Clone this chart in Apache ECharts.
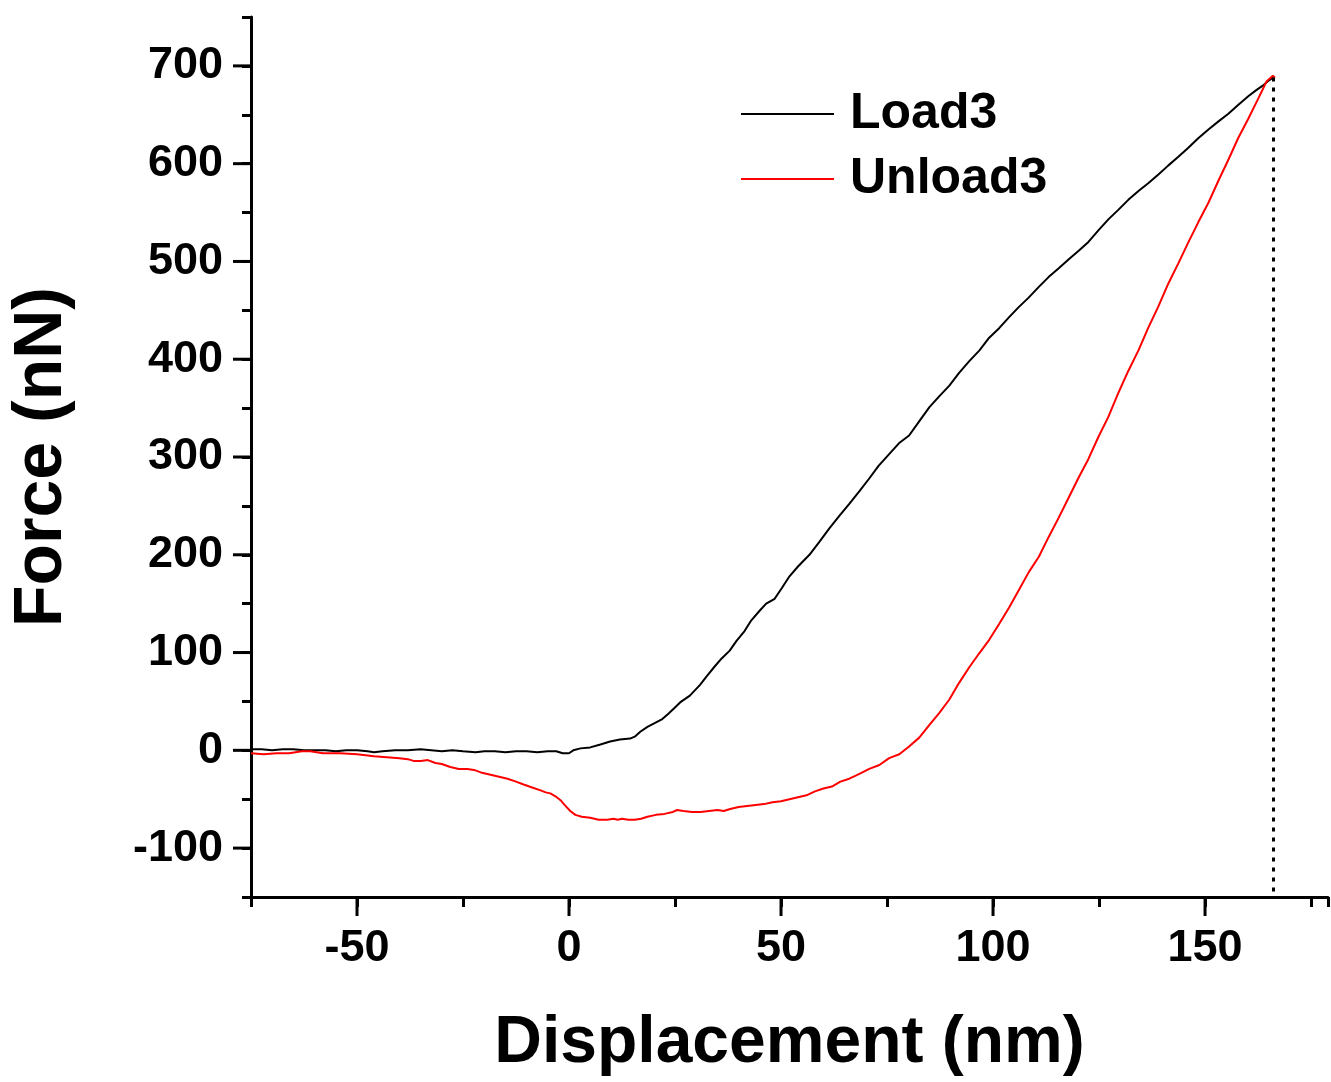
<!DOCTYPE html>
<html>
<head>
<meta charset="utf-8">
<script src="https://cdn.jsdelivr.net/npm/echarts@6/dist/echarts.min.js"></script>
<style>
  html, body { margin: 0; padding: 0; background: #fff; }
  #chart { width: 1331px; height: 1082px; }
</style>
</head>
<body>
<div id="chart"></div>
<script>
// load curve
const loadDisp = [-75, -72.5, -70, -67.5, -65, -62.5, -60, -57.5, -55, -52.5, -50, -47.5, -46, -44, -41, -38, -35, -32.5, -30, -27.5,
  -25, -22, -20, -17.5, -15, -12.5, -10, -7.5, -5, -3, -1.5, 0, 1, 2.7, 5, 7.4, 9.7, 12, 14.4, 15.5,
  16.8, 18.5, 20.3, 22, 23.3, 24.8, 26.2, 28.5, 30.9, 32.5, 34.4, 36, 37.9, 39.5, 41.4, 43, 45, 46.5, 48.5, 50.2,
  52, 54, 56.7, 59, 61.4, 63.8, 66.1, 68.5, 70.8, 73, 75.5, 77.8, 80.2, 82.5, 85, 87.3, 89.7, 92, 94.4, 96.8,
  99.1, 101.5, 103.8, 106, 108.4, 110.8, 113.1, 115.5, 117.8, 120.2, 122.5, 124.9, 127.2, 129.6, 131.9, 134.3, 136.6, 139, 141.3, 143.7,
  146, 148.4, 150.8, 153.1, 155.5, 157.8, 160.2, 162, 163.7, 165, 166];
const loadForce = [1, 1, 0, 1, 1, 0, 0, 0, -1, 0, 0, -1, -2, -1, 0, 0, 1, 0, -1, 0,
  -1, -2, -1, -1, -2, -1, -1, -2, -1, -1, -3, -3, 0, 2, 3, 6, 9, 11, 12, 14,
  19, 24, 28, 32, 37, 43, 49, 56, 67, 76, 86, 94, 102, 112, 122, 133, 143, 150, 155, 166,
  178, 188, 200, 213, 227, 240, 252, 265, 278, 291, 303, 314, 322, 336, 351, 362, 373, 386, 398, 409,
  422, 432, 443, 453, 463, 474, 484, 493, 502, 511, 520, 532, 543, 553, 563, 572, 580, 589, 598, 607,
  616, 626, 635, 643, 651, 660, 669, 675, 680, 685, 688];

// unload curve
const unloadDisp = [-75, -72, -69, -66, -63, -61, -58, -54, -50, -46, -43, -40, -38, -36.5, -35, -33.3, -31.5, -30, -28, -26,
  -24, -22.4, -20.5, -18.5, -16.5, -14.5, -12.5, -10.7, -8.7, -6.7, -5.5, -4.4, -3.2, -2, -1, 0.3, 1.5, 3, 5, 7,
  9, 10.5, 11.5, 12.5, 14, 15.5, 17, 18.5, 20.5, 22.5, 24.5, 25.5, 27, 29, 31, 33, 35, 36.5, 38, 40,
  42, 44, 46, 48, 50, 52, 54, 56, 58, 60, 62, 64, 66.1, 68.5, 70.8, 73.2, 75.5, 77.9, 80.2, 82.6,
  85, 87.3, 89.7, 92, 94.4, 96.7, 99.1, 101.4, 103.8, 106.1, 108.4, 110.8, 113.1, 115.5, 117.8, 120.2, 122.5, 124.9, 127.2, 129.6,
  131.9, 134.3, 136.6, 139, 141.3, 143.7, 146, 148.4, 150.8, 153.1, 155.5, 157.8, 160.2, 162.6, 164.5, 166, 166.5];
const unloadForce = [-3, -4, -3, -3, -1, -1, -3, -3, -4, -6, -7, -8, -9, -11, -11, -10, -13, -14, -17, -19,
  -19, -20, -23, -25, -27, -29, -32, -35, -38, -41, -43, -44, -47, -51, -56, -62, -66, -68, -69, -71,
  -71, -70, -71, -70, -71, -71, -70, -68, -66, -65, -63, -61, -62, -63, -63, -62, -61, -62, -60, -58,
  -57, -56, -55, -53, -52, -50, -48, -46, -42, -39, -37, -32, -29, -24, -19, -15, -8, -4, 4, 13,
  26, 38, 52, 69, 85, 99, 113, 129, 146, 164, 182, 198, 218, 238, 258, 279, 298, 321, 341, 366,
  388, 409, 432, 454, 477, 498, 519, 540, 560, 582, 604, 626, 646, 667, 684, 690, 688];

// end of loading (dotted marker)
const peakDisp = 166;
const peakForce = 688;

// tick values
const xMajorTicks = [-50, 0, 50, 100, 150];
const yMajorTicks = [-100, 0, 100, 200, 300, 400, 500, 600, 700];

const xMin = -75, xMax = 179, yMin = -150, yMax = 750;
const font = "'Liberation Sans', Arial, Helvetica, sans-serif";

const zip = (xs, ys) => xs.map((x, i) => [x, ys[i]]);

const chart = echarts.init(document.getElementById('chart'));

const tickLine = (p1, p2) => ({
  type: 'line',
  shape: { x1: p1[0], y1: p1[1], x2: p2[0], y2: p2[1] },
  style: { stroke: '#000', lineWidth: 3 }
});

const option = {
  backgroundColor: '#fff',
  animation: false,
  grid: { left: 250, right: 0, top: 17, bottom: 183 },
  legend: {
    data: ['Load3', 'Unload3'],
    orient: 'vertical',
    left: 741,
    top: 89,
    padding: 0,
    icon: 'rect',
    itemWidth: 93,
    itemHeight: 2,
    itemGap: 15,
    textStyle: {
      fontFamily: font,
      fontWeight: 'bold',
      fontSize: 50,
      color: '#000',
      padding: [0, 0, 0, 11]
    }
  },
  xAxis: {
    type: 'value',
    min: xMin,
    max: xMax,
    interval: 25,
    name: 'Displacement (nm)',
    nameLocation: 'middle',
    nameGap: 114,
    nameTextStyle: { fontFamily: font, fontWeight: 'bold', fontSize: 66, color: '#000' },
    axisLine: { onZero: false, lineStyle: { color: '#000', width: 3 } },
    axisTick: { inside: false, length: 10, lineStyle: { color: '#000', width: 3 } },
    axisLabel: {
      margin: 29,
      fontFamily: font,
      fontWeight: 'bold',
      fontSize: 45,
      color: '#000',
      formatter: v => (v % 50 === 0 ? String(v) : '')
    },
    splitLine: { show: false }
  },
  yAxis: {
    type: 'value',
    min: yMin,
    max: yMax,
    interval: 50,
    name: 'Force (nN)',
    nameLocation: 'middle',
    nameGap: 175,
    nameTextStyle: { fontFamily: font, fontWeight: 'bold', fontSize: 68, color: '#000' },
    axisLine: { onZero: false, lineStyle: { color: '#000', width: 3 } },
    axisTick: { inside: false, length: 9, lineStyle: { color: '#000', width: 3 } },
    axisLabel: {
      margin: 28,
      fontFamily: font,
      fontWeight: 'bold',
      fontSize: 45,
      color: '#000',
      formatter: v => (v % 100 === 0 ? String(v) : '')
    },
    splitLine: { show: false }
  },
  series: [
    {
      name: 'Load3',
      type: 'line',
      data: zip(loadDisp, loadForce),
      symbol: 'none',
      color: '#000',
      lineStyle: { color: '#000', width: 2 },
      z: 3,
      markLine: {
        silent: true,
        symbol: 'none',
        label: { show: false },
        lineStyle: { color: '#000', width: 3, type: [4, 6] },
        data: [[{ coord: [peakDisp, peakForce] }, { coord: [peakDisp, yMin] }]]
      }
    },
    {
      name: 'Unload3',
      type: 'line',
      data: zip(unloadDisp, unloadForce),
      symbol: 'none',
      color: '#ff0000',
      lineStyle: { color: '#ff0000', width: 2 },
      z: 4
    },
    {
      // long major ticks on the x axis
      type: 'custom',
      clip: false,
      silent: true,
      data: xMajorTicks.map(v => [v, yMin]),
      renderItem: (params, api) => {
        const p = api.coord([api.value(0), api.value(1)]);
        return tickLine(p, [p[0], p[1] + 19]);
      }
    },
    {
      // long major ticks on the y axis
      type: 'custom',
      clip: false,
      silent: true,
      data: yMajorTicks.map(v => [xMin, v]),
      renderItem: (params, api) => {
        const p = api.coord([api.value(0), api.value(1)]);
        return tickLine(p, [p[0] - 18, p[1]]);
      }
    }
  ]
};

chart.setOption(option);
</script>
</body>
</html>
